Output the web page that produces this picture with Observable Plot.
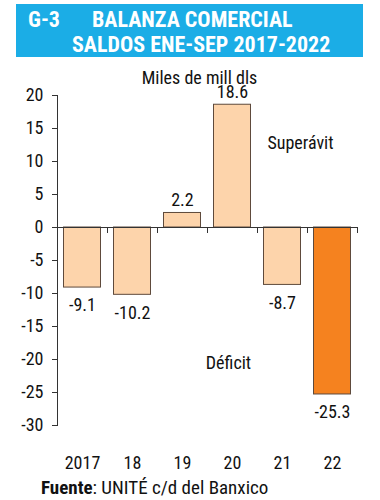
<!DOCTYPE html>
<html><head><meta charset="utf-8">
<script src="https://cdn.jsdelivr.net/npm/d3@7"></script>
<script src="https://cdn.jsdelivr.net/npm/@observablehq/plot@0.6"></script>
<style>
body{margin:0;background:#fff;font-family:Roboto,sans-serif;font-stretch:75%;color:#111;}
#wrap{width:380px;height:500px;position:relative;overflow:hidden;}
#title{position:absolute;left:16px;top:4px;width:347px;height:53px;background:#1badE6;color:#fff;font-weight:bold;font-size:22px;line-height:24px;}
#title span{position:absolute;white-space:nowrap;}
#chart{position:absolute;left:0;top:57px;}
#source{position:absolute;left:41px;top:478px;font-size:19px;line-height:20px;white-space:nowrap;}
svg text{font-stretch:75%;}
</style></head>
<body>
<div id="wrap">
  <div id="title">
    <span style="left:12px;top:4px">G-3</span>
    <span style="left:76px;top:4px">BALANZA COMERCIAL</span>
    <span style="left:56px;top:29px">SALDOS ENE-SEP 2017-2022</span>
  </div>
  <div id="chart"></div>
  <div id="source"><b>Fuente</b>: UNITÉ c/d del Banxico</div>
</div>
<script>
const years = ["2017","18","19","20","21","22"];
const values = [-9.1,-10.2,2.2,18.6,-8.7,-25.3];
const highlight = ["22"];
const yTicks = [20,15,10,5,0,-5,-10,-15,-20,-25,-30];
const unitLabel = "Miles de mill dls";
const notes = [
  {text:"Superávit", x:"21", y:12.7, dx:18},
  {text:"Déficit", x:"20", y:-20.5, dx:-4}
];
const data = years.map((year,i)=>({year, value:values[i]}));

const chart = Plot.plot({
  width:380, height:420,
  marginTop:38, marginBottom:52, marginLeft:57, marginRight:23,
  style:{fontFamily:"Roboto,sans-serif", fontStretch:"75%", fontSize:"18px", color:"#111", background:"transparent"},
  x:{domain:years, paddingInner:0, paddingOuter:0, label:null},
  y:{domain:[-30,20], label:null},
  marks:[
    Plot.barY(data,{x:"year", y:"value",
      fill:d=>highlight.includes(d.year)?"#f5821f":"#fdd4ab",
      stroke:"#5e4a3c", strokeWidth:1, insetLeft:6.5, insetRight:6.5}),
    Plot.ruleY([0],{stroke:"#333"}),
    Plot.ruleX(years,{x:d=>d, y1:0, y2:0, dx:25, insetBottom:-6, stroke:"#333"}),
    Plot.frame({anchor:"left", stroke:"#333"}),
    Plot.axisY({ticks:yTicks, tickSize:5, tickPadding:9, tickFormat:d=>String(d), fontSize:18, stroke:"#333"}),
    Plot.axisX({tickSize:0, tickPadding:31, fontSize:18}),
    Plot.text(data.filter(d=>d.value>0),{x:"year", y:"value", text:d=>d.value.toFixed(1), lineAnchor:"bottom", dy:-7, fontSize:18}),
    Plot.text(data.filter(d=>d.value<0),{x:"year", y:"value", text:d=>d.value.toFixed(1), lineAnchor:"top", dy:11, fontSize:18}),
    ...notes.map(n=>Plot.text([n],{x:"x", y:"y", text:"text", dx:n.dx, fontSize:18})),
    Plot.text([unitLabel],{frameAnchor:"top", dy:-24, dx:-8, text:d=>d, fontSize:18})
  ]
});
document.getElementById("chart").appendChild(chart);
</script>
</body></html>
